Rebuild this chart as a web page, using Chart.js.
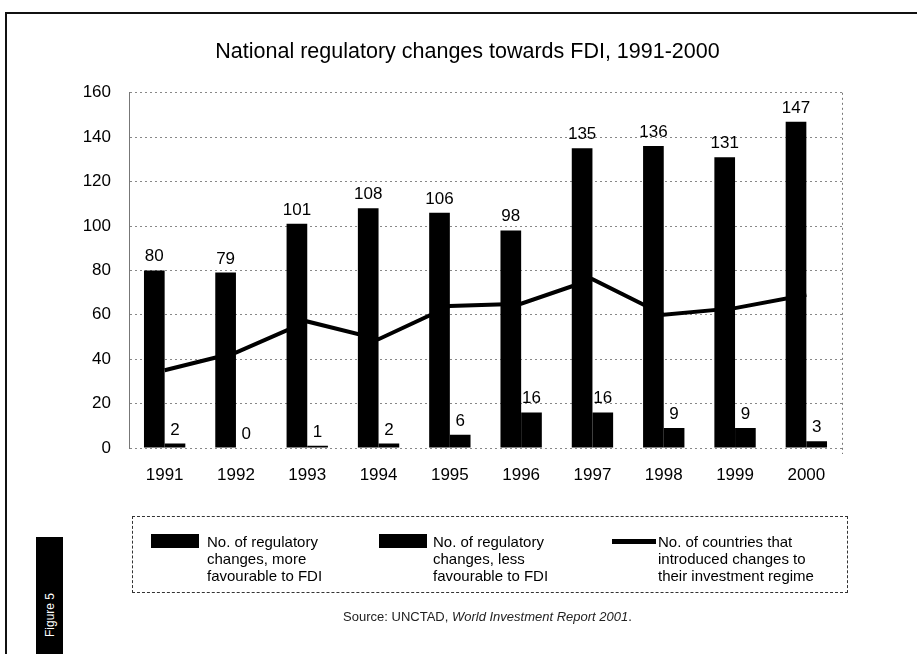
<!DOCTYPE html>
<html>
<head>
<meta charset="utf-8">
<title>National regulatory changes towards FDI</title>
<script src="https://cdn.jsdelivr.net/npm/chart.js@4.4.1/dist/chart.umd.min.js"></script>
<style>
  body { margin: 0; background: #fff; font-family: "Liberation Sans", Arial, sans-serif; }
  #page { position: relative; width: 917px; height: 654px; overflow: hidden; }
  #frame { position: absolute; left: 5px; top: 12px; width: 930px; height: 660px;
           border-left: 2px solid #111; border-top: 2px solid #111; }
  #chart { position: absolute; left: 0; top: 0; }
  #legend { position: absolute; left: 132px; top: 516px; width: 714px; height: 75px;
            border: 1px dashed #333; }
  .item { position: absolute; top: 16px; font-size: 15px; line-height: 17px; color: #000; }
  .swatch { position: absolute; background: #000; }
  #source { position: absolute; left: 0; width: 975px; top: 609px; text-align: center;
            font-size: 13px; color: #222; }
  #tab { position: absolute; left: 36px; top: 537px; width: 27px; height: 130px; background: #000; }
  #tab span { position: absolute; left: 50%; top: 78px; color: #fff; font-size: 12px;
              transform: translate(-50%, -50%) rotate(-90deg); white-space: nowrap; }
</style>
</head>
<body>
<div id="page">
  <div id="frame"></div>
  <canvas id="chart" width="917" height="654"></canvas>
  <div id="legend"></div>
  <div id="source">Source: UNCTAD, <i>World Investment Report 2001</i>.</div>
  <div id="tab"><span>Figure 5</span></div>
</div>
<script>
// Data
const years = ['1991', '1992', '1993', '1994', '1995', '1996', '1997', '1998', '1999', '2000'];
const moreFavourable = [80, 79, 101, 108, 106, 98, 135, 136, 131, 147];
const lessFavourable = [2, 0, 1, 2, 6, 16, 16, 9, 9, 3];
const countriesChanging = [35, 43, 57, 49, 64, 65, 76, 60, 63, 69];

const FONT = '"Liberation Sans", Arial, sans-serif';

// value labels above the bars
const valueLabels = {
  id: 'valueLabels',
  afterDatasetsDraw(chart) {
    const ctx = chart.ctx;
    ctx.save();
    ctx.font = '17px ' + FONT;
    ctx.fillStyle = '#000';
    ctx.textAlign = 'center';
    ctx.textBaseline = 'alphabetic';
    chart.data.datasets.forEach((ds, i) => {
      if (ds.type === 'line') return;
      chart.getDatasetMeta(i).data.forEach((bar, j) => {
        ctx.fillText(ds.data[j], bar.x, bar.y - 9);
      });
    });
    ctx.restore();
  }
};

// dotted right edge of the plot
const plotEdge = {
  id: 'plotEdge',
  beforeDatasetsDraw(chart) {
    const { ctx, chartArea } = chart;
    ctx.save();
    ctx.strokeStyle = '#777';
    ctx.lineWidth = 1;
    ctx.setLineDash([2, 3]);
    ctx.beginPath();
    ctx.moveTo(chartArea.right + 0.5, chartArea.top);
    ctx.lineTo(chartArea.right + 0.5, chartArea.bottom + 6);
    ctx.stroke();
    ctx.restore();
  }
};

const data = {
  labels: years,
  datasets: [
    {
      label: 'No. of regulatory\nchanges, more\nfavourable to FDI',
      data: moreFavourable,
      backgroundColor: '#000',
      order: 2
    },
    {
      label: 'No. of regulatory\nchanges, less\nfavourable to FDI',
      data: lessFavourable,
      backgroundColor: '#000',
      order: 3
    },
    {
      type: 'line',
      label: 'No. of countries that\nintroduced changes to\ntheir investment regime',
      data: countriesChanging,
      borderColor: '#000',
      borderWidth: 4,
      pointRadius: 0,
      tension: 0,
      order: 1
    }
  ]
};

const config = {
  type: 'bar',
  data: data,
  options: {
    responsive: false,
    animation: false,
    layout: { padding: { left: 18, right: 0, top: 0, bottom: 166 } },
    datasets: { bar: { categoryPercentage: 0.58, barPercentage: 1.0 } },
    plugins: {
      legend: { display: false },
      tooltip: { enabled: false },
      title: {
        display: true,
        text: 'National regulatory changes towards FDI, 1991-2000',
        color: '#000',
        font: { family: FONT, size: 21.5, weight: 'normal' },
        padding: { top: 39, bottom: 28 }
      }
    },
    scales: {
      x: {
        grid: { display: false },
        border: { display: false },
        ticks: { color: '#000', font: { family: FONT, size: 17 }, padding: 9, maxRotation: 0 },
        afterFit(scale) { scale.height = 40; }
      },
      y: {
        min: 0,
        max: 160,
        ticks: { stepSize: 20, color: '#000', font: { family: FONT, size: 17 }, padding: 18 },
        grid: { color: '#888', lineWidth: 1, drawTicks: false },
        border: { display: true, color: '#777', dash: [2, 3] },
        afterFit(scale) { scale.width = 111; }
      },
      // empty spacer on the right so the plot ends where the reference does
      yRight: {
        position: 'right',
        min: 0,
        max: 160,
        ticks: { display: false },
        grid: { display: false },
        border: { display: false },
        afterFit(scale) { scale.width = 75; }
      }
    }
  },
  plugins: [plotEdge, valueLabels]
};

const myChart = new Chart(document.getElementById('chart'), config);

// HTML legend built from the datasets
const legendPos = [
  { swatch: 18, text: 74, kind: 'box' },
  { swatch: 246, text: 300, kind: 'box' },
  { swatch: 479, text: 525, kind: 'line' }
];
const legendBox = document.getElementById('legend');
data.datasets.forEach((ds, i) => {
  const p = legendPos[i];
  const sw = document.createElement('div');
  sw.className = 'swatch';
  sw.style.left = p.swatch + 'px';
  if (p.kind === 'box') {
    sw.style.top = '17px'; sw.style.width = '48px'; sw.style.height = '14px';
  } else {
    sw.style.top = '22px'; sw.style.width = '44px'; sw.style.height = '5px';
  }
  legendBox.appendChild(sw);
  const txt = document.createElement('div');
  txt.className = 'item';
  txt.style.left = p.text + 'px';
  txt.innerHTML = ds.label.split('\n').join('<br>');
  legendBox.appendChild(txt);
});
</script>
</body>
</html>
